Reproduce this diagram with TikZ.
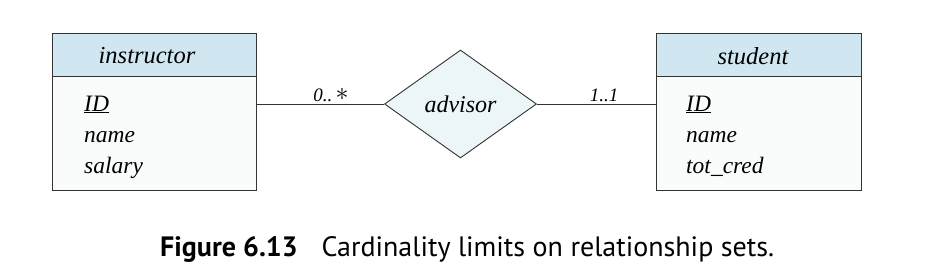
\documentclass[tikz,border=0pt]{standalone}
\usepackage{fontspec}
\setmainfont{Liberation Serif}
\newfontfamily\capfont{PT Sans}
\usetikzlibrary{shapes.geometric}
\definecolor{hdr}{RGB}{208,231,241}
\definecolor{bodyc}{RGB}{250,252,252}
\definecolor{diam}{RGB}{236,245,248}
\begin{document}
\begin{tikzpicture}[x=1pt,y=-1pt,
  ent/.style={draw=black!80,line width=0.9pt},
  etitle/.style={font=\fontsize{24.5}{24.5}\selectfont\itshape,anchor=center},
  attr/.style={font=\fontsize{23.5}{23.5}\selectfont\itshape,anchor=base west,inner sep=0pt},
  rel/.style={diamond,draw=black!80,line width=0.9pt,fill=diam,minimum width=152pt,minimum height=108pt,inner sep=0pt,aspect=1.4,font=\fontsize{24}{24}\selectfont\itshape},
  card/.style={font=\fontsize{19}{19}\selectfont\itshape,anchor=base,inner sep=0pt},
  conn/.style={draw=black!80,line width=0.9pt}]
\useasboundingbox (0,0) rectangle (932,276);
% instructor
\fill[hdr] (52,33) rectangle (256,76);
\fill[bodyc] (52,76) rectangle (256,190);
\draw[ent] (52,33) rectangle (256,190);
\draw[ent] (52,76) -- (256,76);
\node[etitle] (inst) at (147,56) {instructor};
\node[attr] (iid) at (84,111) {\underline{ID}};
\node[attr] (iname) at (84,142) {name};
\node[attr] (isal) at (84,173) {salary};
\coordinate (ir) at (256,104);
% student
\fill[hdr] (656,33) rectangle (861,76);
\fill[bodyc] (656,76) rectangle (861,190);
\draw[ent] (656,33) rectangle (861,190);
\draw[ent] (656,76) -- (861,76);
\node[etitle] (stu) at (753,56) {student};
\node[attr] (sid) at (686,111) {\underline{ID}};
\node[attr] (sname) at (686,142) {name};
\node[attr] (scred) at (686,173) {tot\_cred};
\coordinate (sl) at (656,104);
% relationship
\node[rel] (adv) at (460.5,104) {advisor};
\draw[conn] (ir) -- (adv.west);
\draw[conn] (adv.east) -- (sl);
\node[card] (c1) at (331,101) {0..\,\raisebox{1pt}{\scalebox{1.5}{$\ast$}}};
\node[card] (c2) at (604,101) {1..1};
% caption
\node[anchor=base west,inner sep=0pt,font=\capfont\fontsize{28}{28}\selectfont] (cap) at (160,256) {\textbf{Figure 6.13}\hspace{24pt}Cardinality limits on relationship sets.};
\end{tikzpicture}
\end{document}
